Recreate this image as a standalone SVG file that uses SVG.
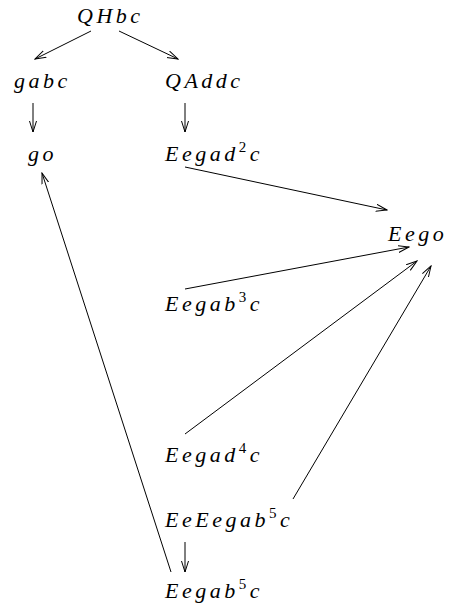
<svg xmlns="http://www.w3.org/2000/svg" width="450" height="608" viewBox="0 0 450 608">
<style>
text{font-family:"Liberation Serif","DejaVu Serif",serif;font-style:italic;font-size:22px;letter-spacing:3.5px;fill:#000}
.sup{font-size:15px;font-style:normal}
.c{stroke:#000;stroke-width:1;fill:none;marker-end:url(#ah)}
</style>
<defs>
<marker id="ah" markerWidth="12" markerHeight="10" refX="11" refY="4" orient="auto" markerUnits="userSpaceOnUse">
<path d="M0,0.5 L11,4 L0,7.5" fill="none" stroke="#000" stroke-width="1"/>
</marker>
</defs>
<rect width="450" height="608" fill="#fff"/>
<g id="connectors">
<line class="c" x1="91" y1="31" x2="35" y2="59"/>
<line class="c" x1="119" y1="31" x2="178" y2="59"/>
<line class="c" x1="33" y1="103" x2="33" y2="132"/>
<line class="c" x1="185" y1="103" x2="185" y2="132"/>
<line class="c" x1="185" y1="167" x2="387" y2="210"/>
<line class="c" x1="185" y1="289" x2="409" y2="247"/>
<line class="c" x1="185" y1="434" x2="417" y2="261"/>
<line class="c" x1="293" y1="499" x2="431" y2="266"/>
<line class="c" x1="185" y1="542" x2="185" y2="572"/>
<line class="c" x1="171" y1="572" x2="42" y2="173"/>
</g>
<g id="n1"><text x="77" y="23">QHbc</text></g>
<g id="n2"><text x="14" y="88">gabc</text></g>
<g id="n3"><text x="165" y="88">QAddc</text></g>
<g id="n4"><text x="28" y="161">go</text></g>
<g id="n5"><text x="165" y="161">Eegad<tspan class="sup" dy="-9">2</tspan><tspan dy="9">c</tspan></text></g>
<g id="n6"><text x="388" y="241">Eego</text></g>
<g id="n7"><text x="165" y="311">Eegab<tspan class="sup" dy="-9">3</tspan><tspan dy="9">c</tspan></text></g>
<g id="n8"><text x="165" y="462">Eegad<tspan class="sup" dy="-9">4</tspan><tspan dy="9">c</tspan></text></g>
<g id="n9"><text x="165" y="527">EeEegab<tspan class="sup" dy="-9">5</tspan><tspan dy="9">c</tspan></text></g>
<g id="n10"><text x="165" y="598">Eegab<tspan class="sup" dy="-9">5</tspan><tspan dy="9">c</tspan></text></g>
</svg>
